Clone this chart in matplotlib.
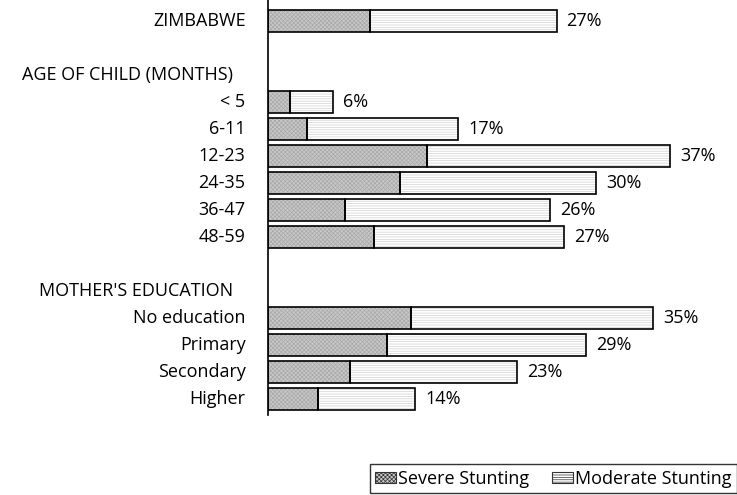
import matplotlib
matplotlib.use('Agg')
import matplotlib.pyplot as plt
from matplotlib.patches import Patch

plt.rcParams['font.family'] = ['Open Sans', 'DejaVu Sans']
plt.rcParams['hatch.linewidth'] = 0.5

# rows from top; None = blank line
labels = ['ZIMBABWE', None, 'AGE OF CHILD (MONTHS)', '< 5', '6-11', '12-23', '24-35',
          '36-47', '48-59', None, "MOTHER'S EDUCATION", 'No education', 'Primary',
          'Secondary', 'Higher']
headers = ['AGE OF CHILD (MONTHS)', "MOTHER'S EDUCATION"]
severe = [9.4, None, None, 2.1, 3.6, 14.6, 12.1, 7.1, 9.7, None, None, 13.1, 10.9, 7.5, 4.6]
moderate = [17.0, None, None, 3.9, 13.8, 22.2, 17.9, 18.7, 17.4, None, None, 22.1, 18.2, 15.3, 8.9]
total_labels = ['27%', None, None, '6%', '17%', '37%', '30%', '26%', '27%', None, None,
                '35%', '29%', '23%', '14%']

W, H = 737, 495
PX = 10.95  # pixels per percent
FS = 13
fig = plt.figure(figsize=(W / 100, H / 100), dpi=100)
ax = fig.add_axes([267.5 / W, 1 - 415 / H, 432 / W, 415 / H])
ax.set_xlim(0, 432 / PX)
ax.set_ylim(14.59, -0.78)

sev_face = '#c8c8c8'
for i, lab in enumerate(labels):
    if lab is None:
        continue
    if lab in headers:
        ax.text(-34 / PX, i, lab, ha='right', va='center', fontsize=FS)
        continue
    ax.text(-22 / PX, i, lab, ha='right', va='center', fontsize=FS)
    s = severe[i]
    m = moderate[i]
    ax.barh(i, s, height=0.8, color=sev_face, hatch='xxxxxxxx', edgecolor='#a8a8a8', linewidth=0)
    ax.barh(i, m, left=s, height=0.8, color='white', hatch='-------', edgecolor='#d0d0d0', linewidth=0)
    ax.barh(i, s, height=0.8, fill=False, edgecolor='black', linewidth=1.2)
    ax.barh(i, m, left=s, height=0.8, fill=False, edgecolor='black', linewidth=1.2)
    ax.text(s + m + 10 / PX, i, total_labels[i], ha='left', va='center', fontsize=FS)

for sp in ['top', 'right', 'bottom']:
    ax.spines[sp].set_visible(False)
ax.spines['left'].set_linewidth(1.2)
ax.set_xticks([])
ax.set_yticks([])
ax.patch.set_alpha(0)

handles = [Patch(facecolor=sev_face, hatch='xxxxxxxx', edgecolor='#333333', linewidth=0.8),
           Patch(facecolor='white', hatch='-------', edgecolor='#333333', linewidth=0.8)]
leg = fig.legend(handles, ['Severe Stunting', 'Moderate Stunting'], ncol=2,
                 loc='lower right', bbox_to_anchor=(737 / W, 2 / H), fancybox=False,
                 edgecolor='black', fontsize=FS, handlelength=1.16, handleheight=0.55,
                 handletextpad=0.1, columnspacing=1.3, borderpad=0.3, borderaxespad=0)
leg.get_frame().set_linewidth(1.0)

fig.savefig('out.png', dpi=100)
